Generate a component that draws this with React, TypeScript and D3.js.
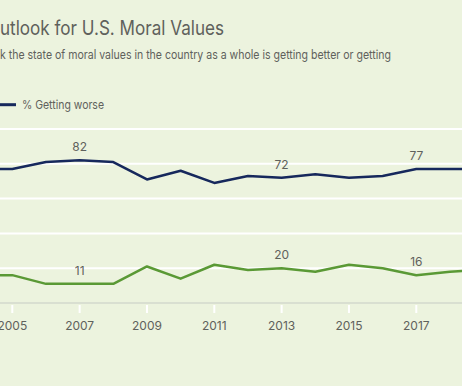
import React from "react";
import * as d3 from "d3";

const years = [2004, 2005, 2006, 2007, 2008, 2009, 2010, 2011, 2012, 2013, 2014, 2015, 2016, 2017, 2018, 2019];
const gettingWorse = [77, 77, 81, 82, 81, 71, 76, 69, 73, 72, 74, 72, 73, 77, 77, 77];
const gettingBetter = [16, 16, 11, 11, 11, 21, 14, 22, 19, 20, 18, 22, 20, 16, 18, 19];
const tickYears = [2005, 2007, 2009, 2011, 2013, 2015, 2017, 2019];
const gridValues = [20, 40, 60, 80, 100];
const labelYears = [2007, 2013, 2017];

const W = 462;
const H = 386;
const BG = "#ecf3de";
const NAVY = "#16285c";
const GREEN = "#5a9935";
const TEXT = "#5f615c";
const FONT = "Inter, 'Noto Sans', sans-serif";

export default function App() {
  const x = d3.scaleLinear().domain([2005, 2017]).range([12.3, 416.3]);
  const y = d3.scaleLinear().domain([0, 100]).range([303, 129]);

  const line = d3
    .line<number>()
    .x((_, i) => x(years[i]))
    .y((d) => y(d));

  return (
    <div style={{ position: "fixed", left: 0, top: 0 }}>
      <svg width={W} height={H} style={{ display: "block", fontFamily: FONT }}>
        <defs>
          <clipPath id="plot">
            <rect x={0} y={0} width={W} height={H} />
          </clipPath>
        </defs>
        <rect x={0} y={0} width={W} height={H} fill={BG} />

        {/* Title (left part cropped) */}
        <text x={-0.5} y={35} fontSize={20} fill={TEXT} textAnchor="end">O</text>
        <text x={0} y={35} fontSize={20} fill={TEXT} textLength={224} lengthAdjust="spacingAndGlyphs">
          utlook for U.S. Moral Values
        </text>
        <text x={0} y={59} fontSize={12.5} fill={TEXT} textLength={391} lengthAdjust="spacingAndGlyphs">
          k the state of moral values in the country as a whole is getting better or getting
        </text>

        {/* Legend */}
        <line x1={-4} x2={16} y1={104.7} y2={104.7} stroke={NAVY} strokeWidth={3} />
        <text x={22} y={109} fontSize={12} fill={TEXT} textLength={82} lengthAdjust="spacingAndGlyphs">
          % Getting worse
        </text>

        {/* Gridlines */}
        {gridValues.map((v) => (
          <line key={v} x1={0} x2={W} y1={y(v)} y2={y(v)} stroke="#ffffff" strokeWidth={2} />
        ))}

        {/* Baseline */}
        <line x1={0} x2={W} y1={y(0)} y2={y(0)} stroke="#d9dfd1" strokeWidth={2} />

        {/* Ticks */}
        {tickYears.map((t) => (
          <g key={t}>
            <line x1={x(t)} x2={x(t)} y1={305} y2={313} stroke="#ffffff" strokeWidth={2} />
            <text x={x(t)} y={329.5} fontSize={12} fill={TEXT} textAnchor="middle">
              {t}
            </text>
          </g>
        ))}

        {/* Lines */}
        <g clipPath="url(#plot)">
          <path d={line(gettingWorse) || ""} fill="none" stroke={NAVY} strokeWidth={2.5} strokeLinejoin="round" />
          <path d={line(gettingBetter) || ""} fill="none" stroke={GREEN} strokeWidth={2.5} strokeLinejoin="round" />
        </g>

        {/* Data labels */}
        {labelYears.map((yr) => {
          const i = years.indexOf(yr);
          return (
            <g key={yr}>
              <text x={x(yr)} y={y(gettingWorse[i]) - 9} fontSize={12} fill={TEXT} textAnchor="middle">
                {gettingWorse[i]}
              </text>
              <text x={x(yr)} y={y(gettingBetter[i]) - 9} fontSize={12} fill={TEXT} textAnchor="middle">
                {gettingBetter[i]}
              </text>
            </g>
          );
        })}
      </svg>
    </div>
  );
}
